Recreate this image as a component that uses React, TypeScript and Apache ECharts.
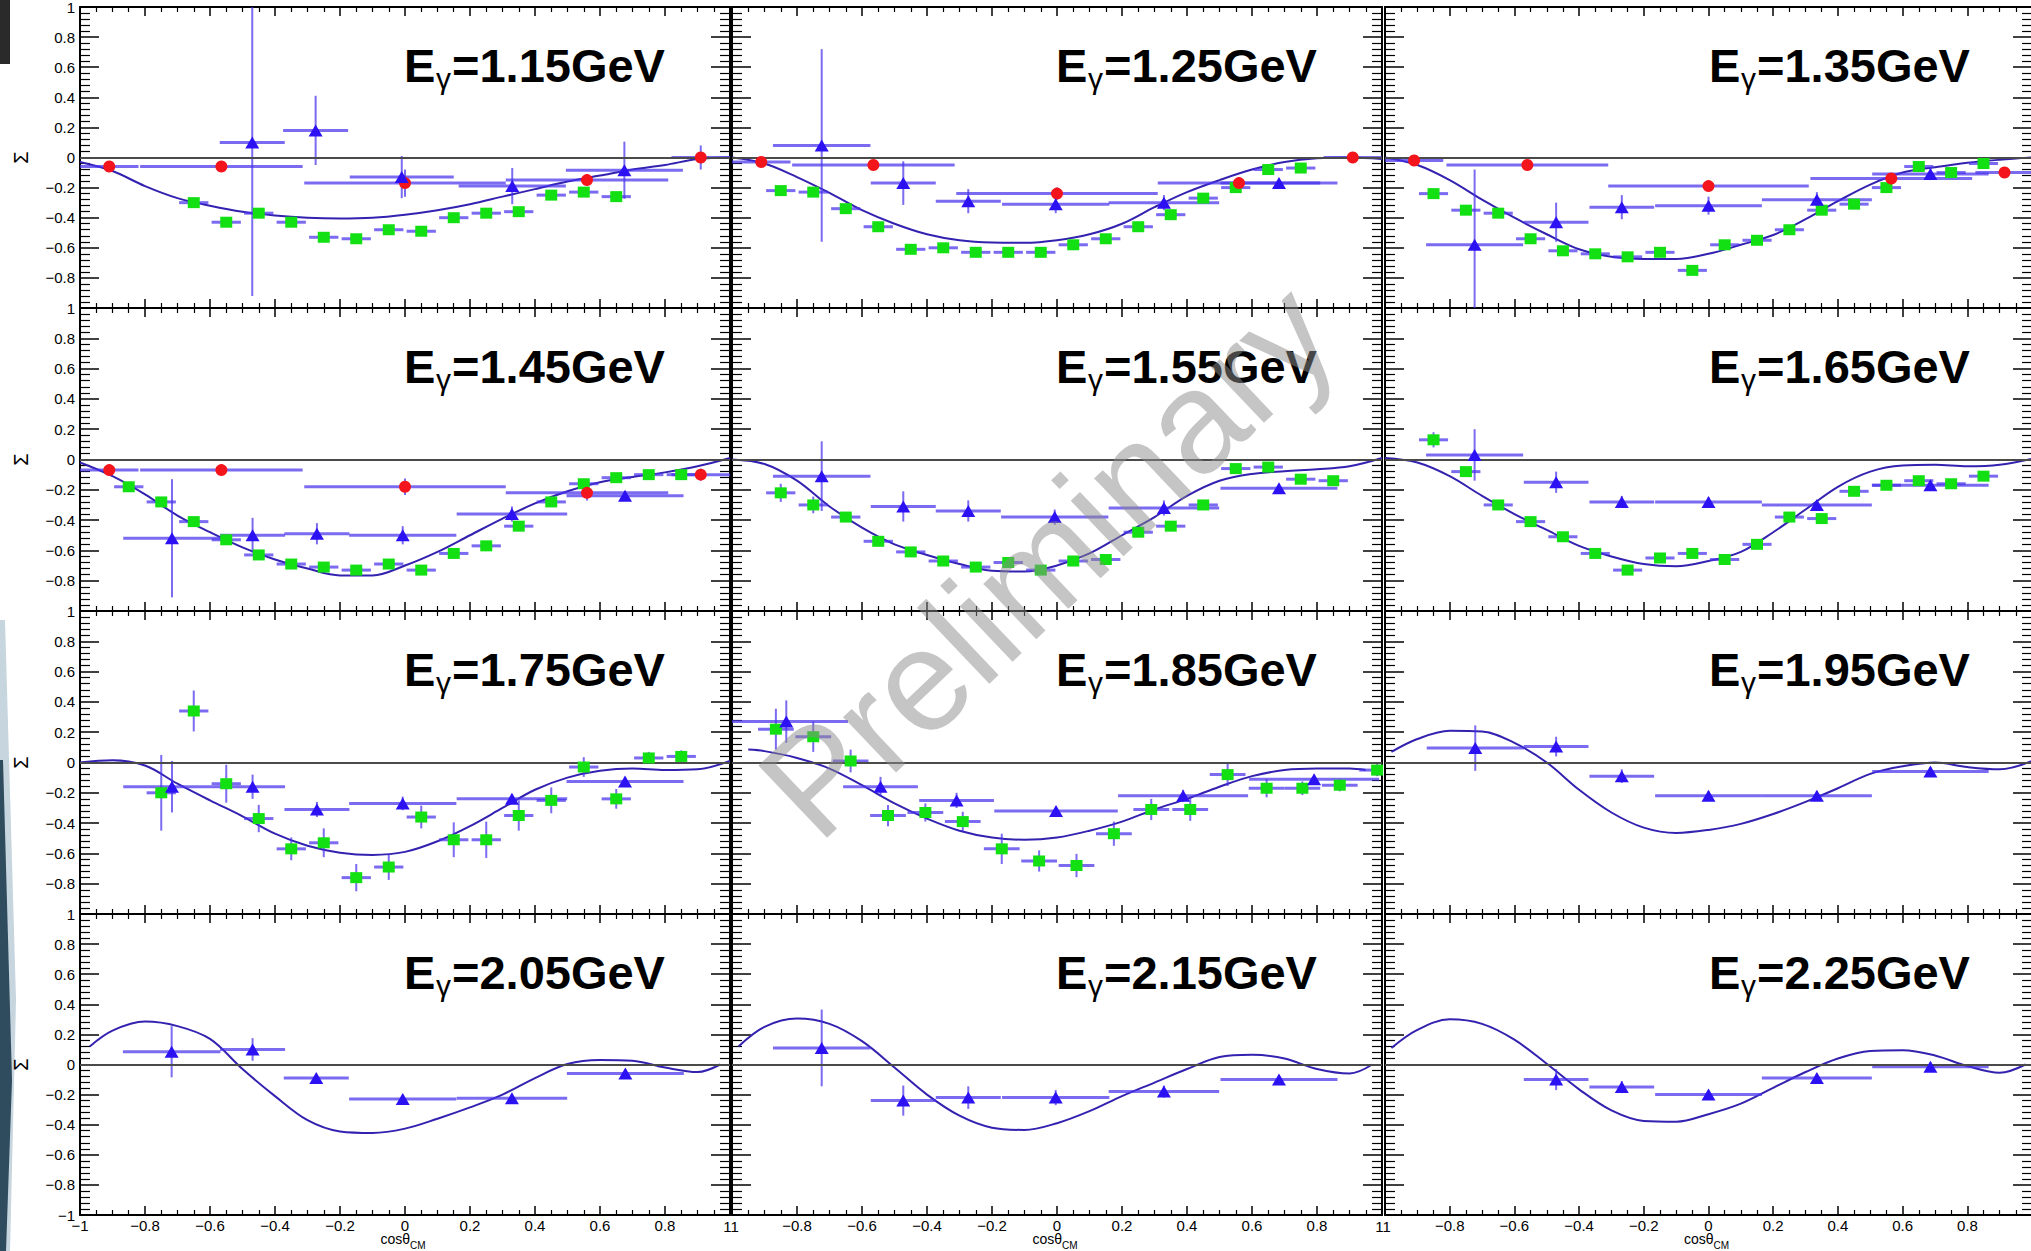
import React, { useEffect, useRef } from "react";
import * as echarts from "echarts";

type Pt = [number, number, number, number]; // x, y, x-error, y-error
type XY = [number, number];

const ENERGY_LABELS = ["1.15", "1.25", "1.35", "1.45", "1.55", "1.65", "1.75", "1.85", "1.95", "2.05", "2.15", "2.25"];

// ---------- E = 1.15 GeV ----------
const GREEN_115: Pt[] = [
  [-0.65, -0.30, 0.045, 0.02], [-0.55, -0.43, 0.045, 0.02], [-0.45, -0.37, 0.045, 0.02], [-0.35, -0.43, 0.045, 0.02],
  [-0.25, -0.53, 0.045, 0.02], [-0.15, -0.54, 0.045, 0.02], [-0.05, -0.48, 0.045, 0.02], [0.05, -0.49, 0.045, 0.02],
  [0.15, -0.40, 0.045, 0.02], [0.25, -0.37, 0.045, 0.02], [0.35, -0.36, 0.045, 0.02], [0.45, -0.25, 0.045, 0.02],
  [0.55, -0.23, 0.045, 0.02], [0.65, -0.26, 0.045, 0.02],
];
const RED_115: Pt[] = [
  [-0.91, -0.06, 0.09, 0.03], [-0.565, -0.06, 0.25, 0.03], [0.0, -0.17, 0.31, 0.09], [0.56, -0.15, 0.25, 0.04], [0.91, 0.0, 0.09, 0.08],
];
const TRI_115: Pt[] = [
  [-0.47, 0.10, 0.10, 1.02], [-0.275, 0.18, 0.10, 0.23], [-0.01, -0.13, 0.16, 0.14], [0.33, -0.19, 0.165, 0.12], [0.675, -0.085, 0.18, 0.19],
];
const CURVE_115: XY[] = [
  [-1, -0.03], [-0.9, -0.09], [-0.8, -0.19], [-0.7, -0.27], [-0.6, -0.32], [-0.5, -0.36], [-0.4, -0.385], [-0.3, -0.40],
  [-0.2, -0.405], [-0.1, -0.40], [0, -0.38], [0.1, -0.35], [0.2, -0.31], [0.3, -0.26], [0.4, -0.21], [0.5, -0.16],
  [0.6, -0.12], [0.7, -0.08], [0.8, -0.05], [0.9, -0.01], [1, 0],
];

// ---------- E = 1.25 GeV ----------
const GREEN_125: Pt[] = [
  [-0.85, -0.22, 0.045, 0.02], [-0.75, -0.23, 0.045, 0.02], [-0.65, -0.34, 0.045, 0.02], [-0.55, -0.46, 0.045, 0.02],
  [-0.45, -0.61, 0.045, 0.02], [-0.35, -0.60, 0.045, 0.02], [-0.25, -0.63, 0.045, 0.02], [-0.15, -0.63, 0.045, 0.02],
  [-0.05, -0.63, 0.045, 0.02], [0.05, -0.58, 0.045, 0.02], [0.15, -0.54, 0.045, 0.02], [0.25, -0.46, 0.045, 0.02],
  [0.35, -0.38, 0.045, 0.02], [0.45, -0.27, 0.045, 0.02], [0.55, -0.20, 0.045, 0.02], [0.65, -0.08, 0.045, 0.02],
  [0.75, -0.07, 0.045, 0.02],
];
const RED_125: Pt[] = [
  [-0.91, -0.03, 0.09, 0.03], [-0.565, -0.05, 0.25, 0.03], [0.0, -0.24, 0.31, 0.04], [0.56, -0.17, 0.25, 0.04], [0.91, 0.0, 0.09, 0.03],
];
const TRI_125: Pt[] = [
  [-0.724, 0.08, 0.15, 0.64], [-0.473, -0.17, 0.10, 0.145], [-0.273, -0.29, 0.10, 0.08], [-0.004, -0.31, 0.165, 0.06],
  [0.329, -0.30, 0.17, 0.05], [0.683, -0.17, 0.18, 0.03],
];
const CURVE_125: XY[] = [
  [-1, 0.0], [-0.9, -0.04], [-0.8, -0.13], [-0.7, -0.235], [-0.6, -0.35], [-0.5, -0.44], [-0.4, -0.51], [-0.3, -0.55],
  [-0.2, -0.565], [-0.1, -0.567], [0, -0.55], [0.1, -0.51], [0.2, -0.44], [0.3, -0.33], [0.4, -0.23], [0.5, -0.15],
  [0.6, -0.08], [0.7, -0.03], [0.8, -0.005], [0.9, 0.0], [1, -0.01],
];

// ---------- E = 1.35 GeV ----------
const GREEN_135: Pt[] = [
  [-0.85, -0.24, 0.045, 0.02], [-0.75, -0.35, 0.045, 0.02], [-0.65, -0.37, 0.045, 0.02], [-0.55, -0.54, 0.045, 0.02],
  [-0.45, -0.62, 0.045, 0.02], [-0.35, -0.64, 0.045, 0.02], [-0.25, -0.66, 0.045, 0.02], [-0.15, -0.63, 0.045, 0.02],
  [-0.05, -0.75, 0.045, 0.02], [0.05, -0.58, 0.045, 0.02], [0.15, -0.55, 0.045, 0.02], [0.25, -0.48, 0.045, 0.02],
  [0.35, -0.35, 0.045, 0.02], [0.45, -0.31, 0.045, 0.02], [0.55, -0.20, 0.045, 0.02], [0.65, -0.06, 0.045, 0.02],
  [0.75, -0.10, 0.045, 0.02], [0.85, -0.04, 0.045, 0.02],
];
const RED_135: Pt[] = [
  [-0.91, -0.02, 0.09, 0.03], [-0.56, -0.05, 0.25, 0.03], [0.0, -0.19, 0.31, 0.03], [0.565, -0.14, 0.25, 0.03], [0.915, -0.10, 0.09, 0.03],
];
const TRI_135: Pt[] = [
  [-0.723, -0.58, 0.15, 0.50], [-0.471, -0.43, 0.10, 0.13], [-0.268, -0.33, 0.10, 0.08], [0.0, -0.32, 0.165, 0.06],
  [0.335, -0.28, 0.17, 0.05], [0.686, -0.11, 0.18, 0.04],
];
const CURVE_135: XY[] = [
  [-1, 0.0], [-0.9, -0.05], [-0.8, -0.15], [-0.7, -0.28], [-0.6, -0.40], [-0.5, -0.51], [-0.4, -0.61], [-0.3, -0.66],
  [-0.2, -0.675], [-0.1, -0.675], [0, -0.64], [0.1, -0.58], [0.2, -0.515], [0.3, -0.41], [0.4, -0.29], [0.5, -0.18],
  [0.6, -0.10], [0.7, -0.065], [0.8, -0.035], [0.9, -0.015], [1, 0.0],
];

// ---------- E = 1.45 GeV ----------
const GREEN_145: Pt[] = [
  [-0.85, -0.18, 0.045, 0.02], [-0.75, -0.28, 0.045, 0.02], [-0.65, -0.41, 0.045, 0.02], [-0.55, -0.53, 0.045, 0.02],
  [-0.45, -0.63, 0.045, 0.02], [-0.35, -0.69, 0.045, 0.02], [-0.25, -0.71, 0.045, 0.02], [-0.15, -0.73, 0.045, 0.02],
  [-0.05, -0.69, 0.045, 0.02], [0.05, -0.73, 0.045, 0.02], [0.15, -0.62, 0.045, 0.02], [0.25, -0.57, 0.045, 0.02],
  [0.35, -0.44, 0.045, 0.02], [0.45, -0.28, 0.045, 0.02], [0.55, -0.16, 0.045, 0.02], [0.65, -0.12, 0.045, 0.02],
  [0.75, -0.10, 0.045, 0.02], [0.85, -0.10, 0.045, 0.02],
];
const RED_145: Pt[] = [
  [-0.91, -0.07, 0.09, 0.03], [-0.565, -0.07, 0.25, 0.03], [0.0, -0.18, 0.31, 0.055], [0.56, -0.22, 0.25, 0.05], [0.91, -0.10, 0.09, 0.04],
];
const TRI_145: Pt[] = [
  [-0.717, -0.52, 0.15, 0.39], [-0.469, -0.50, 0.10, 0.115], [-0.271, -0.49, 0.10, 0.07], [-0.007, -0.50, 0.165, 0.06],
  [0.329, -0.36, 0.17, 0.05], [0.677, -0.24, 0.18, 0.03],
];
const CURVE_145: XY[] = [
  [-1, -0.02], [-0.9, -0.11], [-0.8, -0.23], [-0.7, -0.37], [-0.6, -0.48], [-0.5, -0.58], [-0.4, -0.66], [-0.3, -0.72],
  [-0.2, -0.765], [-0.1, -0.765], [0, -0.70], [0.1, -0.61], [0.2, -0.50], [0.3, -0.39], [0.4, -0.29], [0.5, -0.21],
  [0.6, -0.15], [0.7, -0.115], [0.8, -0.085], [0.9, -0.045], [1, 0.01],
];

// ---------- E = 1.55 GeV ----------
const GREEN_155: Pt[] = [
  [-0.85, -0.22, 0.045, 0.06], [-0.75, -0.30, 0.045, 0.055], [-0.65, -0.38, 0.045, 0.03], [-0.55, -0.54, 0.045, 0.03],
  [-0.45, -0.61, 0.045, 0.03], [-0.35, -0.67, 0.045, 0.03], [-0.25, -0.71, 0.045, 0.03], [-0.15, -0.68, 0.045, 0.03],
  [-0.05, -0.73, 0.045, 0.03], [0.05, -0.67, 0.045, 0.03], [0.15, -0.66, 0.045, 0.03], [0.25, -0.48, 0.045, 0.03],
  [0.35, -0.44, 0.045, 0.03], [0.45, -0.30, 0.045, 0.03], [0.55, -0.06, 0.045, 0.03], [0.65, -0.05, 0.045, 0.03],
  [0.75, -0.13, 0.045, 0.03], [0.85, -0.14, 0.045, 0.03],
];
const TRI_155: Pt[] = [
  [-0.724, -0.11, 0.15, 0.23], [-0.473, -0.31, 0.10, 0.10], [-0.273, -0.34, 0.10, 0.07], [-0.007, -0.38, 0.165, 0.05],
  [0.329, -0.32, 0.17, 0.05], [0.683, -0.19, 0.18, 0.03],
];
const CURVE_155: XY[] = [
  [-1, 0.0], [-0.9, -0.03], [-0.8, -0.14], [-0.7, -0.31], [-0.6, -0.45], [-0.5, -0.56], [-0.4, -0.63], [-0.3, -0.69],
  [-0.2, -0.735], [-0.1, -0.74], [0, -0.70], [0.1, -0.62], [0.2, -0.50], [0.3, -0.38], [0.4, -0.24], [0.5, -0.14],
  [0.6, -0.095], [0.7, -0.077], [0.8, -0.065], [0.9, -0.045], [1, 0.01],
];

// ---------- E = 1.65 GeV ----------
const GREEN_165: Pt[] = [
  [-0.85, 0.13, 0.045, 0.05], [-0.75, -0.08, 0.045, 0.03], [-0.65, -0.30, 0.045, 0.02], [-0.55, -0.41, 0.045, 0.02],
  [-0.45, -0.51, 0.045, 0.02], [-0.35, -0.62, 0.045, 0.02], [-0.25, -0.73, 0.045, 0.02], [-0.15, -0.65, 0.045, 0.02],
  [-0.05, -0.62, 0.045, 0.02], [0.05, -0.66, 0.045, 0.02], [0.15, -0.56, 0.045, 0.02], [0.25, -0.38, 0.045, 0.02],
  [0.35, -0.39, 0.045, 0.02], [0.45, -0.21, 0.045, 0.02], [0.55, -0.17, 0.045, 0.02], [0.65, -0.14, 0.045, 0.02],
  [0.75, -0.16, 0.045, 0.02], [0.85, -0.11, 0.045, 0.02],
];
const TRI_165: Pt[] = [
  [-0.723, 0.03, 0.15, 0.17], [-0.471, -0.15, 0.10, 0.07], [-0.268, -0.28, 0.10, 0.04], [0.0, -0.28, 0.165, 0.03],
  [0.335, -0.30, 0.17, 0.03], [0.686, -0.17, 0.18, 0.03],
];
const CURVE_165: XY[] = [
  [-1, 0.01], [-0.9, -0.02], [-0.8, -0.11], [-0.7, -0.24], [-0.6, -0.36], [-0.5, -0.465], [-0.4, -0.57], [-0.3, -0.64],
  [-0.2, -0.69], [-0.1, -0.705], [0, -0.67], [0.1, -0.61], [0.2, -0.48], [0.3, -0.33], [0.4, -0.18], [0.5, -0.08],
  [0.6, -0.04], [0.7, -0.035], [0.8, -0.045], [0.9, -0.035], [1, 0.005],
];

// ---------- E = 1.75 GeV ----------
const GREEN_175: Pt[] = [
  [-0.75, -0.20, 0.045, 0.25], [-0.65, 0.34, 0.045, 0.135], [-0.55, -0.14, 0.045, 0.125], [-0.45, -0.37, 0.045, 0.09],
  [-0.35, -0.57, 0.045, 0.075], [-0.25, -0.53, 0.045, 0.095], [-0.15, -0.76, 0.045, 0.09], [-0.05, -0.69, 0.045, 0.085],
  [0.05, -0.36, 0.045, 0.075], [0.15, -0.51, 0.045, 0.115], [0.25, -0.51, 0.045, 0.12], [0.35, -0.35, 0.045, 0.10],
  [0.45, -0.25, 0.045, 0.085], [0.55, -0.03, 0.045, 0.065], [0.65, -0.24, 0.045, 0.065], [0.75, 0.03, 0.045, 0.04],
  [0.85, 0.04, 0.045, 0.04],
];
const TRI_175: Pt[] = [
  [-0.717, -0.16, 0.15, 0.17], [-0.469, -0.16, 0.10, 0.08], [-0.271, -0.31, 0.10, 0.05], [-0.007, -0.27, 0.165, 0.045],
  [0.329, -0.24, 0.17, 0.03], [0.677, -0.125, 0.18, 0.03],
];
const CURVE_175: XY[] = [
  [-1, 0.0], [-0.9, 0.015], [-0.8, -0.02], [-0.7, -0.14], [-0.6, -0.25], [-0.5, -0.355], [-0.4, -0.47], [-0.3, -0.55],
  [-0.2, -0.595], [-0.1, -0.61], [0, -0.59], [0.1, -0.52], [0.2, -0.42], [0.3, -0.30], [0.4, -0.18], [0.5, -0.10],
  [0.6, -0.055], [0.7, -0.04], [0.8, -0.05], [0.9, -0.045], [1, 0.01],
];

// ---------- E = 1.85 GeV ----------
const GREEN_185: Pt[] = [
  [-0.865, 0.22, 0.055, 0.135], [-0.75, 0.17, 0.055, 0.10], [-0.635, 0.01, 0.055, 0.075], [-0.52, -0.35, 0.055, 0.07],
  [-0.405, -0.33, 0.055, 0.06], [-0.29, -0.39, 0.055, 0.065], [-0.17, -0.57, 0.055, 0.10], [-0.055, -0.65, 0.055, 0.07],
  [0.06, -0.68, 0.055, 0.077], [0.175, -0.47, 0.055, 0.08], [0.29, -0.31, 0.055, 0.07], [0.41, -0.31, 0.055, 0.075],
  [0.525, -0.08, 0.055, 0.075], [0.645, -0.17, 0.055, 0.06], [0.755, -0.17, 0.055, 0.045], [0.87, -0.15, 0.055, 0.04],
  [0.985, -0.05, 0.055, 0.04],
];
const TRI_185: Pt[] = [
  [-0.833, 0.27, 0.19, 0.14], [-0.543, -0.16, 0.115, 0.065], [-0.309, -0.25, 0.115, 0.05], [-0.003, -0.32, 0.19, 0.03],
  [0.388, -0.22, 0.20, 0.04], [0.791, -0.11, 0.20, 0.03],
];
const CURVE_185: XY[] = [
  [-0.95, 0.085], [-0.9, 0.075], [-0.8, 0.03], [-0.7, -0.04], [-0.6, -0.15], [-0.5, -0.27], [-0.4, -0.37], [-0.3, -0.45],
  [-0.2, -0.495], [-0.1, -0.51], [0, -0.495], [0.1, -0.45], [0.2, -0.39], [0.3, -0.31], [0.4, -0.24], [0.5, -0.16],
  [0.6, -0.09], [0.7, -0.05], [0.8, -0.04], [0.9, -0.04], [0.95, -0.05],
];

// ---------- E = 1.95 GeV ----------
const TRI_195: Pt[] = [
  [-0.721, 0.095, 0.15, 0.15], [-0.471, 0.105, 0.10, 0.065], [-0.268, -0.09, 0.10, 0.045], [0.0, -0.22, 0.165, 0.03],
  [0.335, -0.22, 0.17, 0.03], [0.686, -0.06, 0.18, 0.03],
];
const CURVE_195: XY[] = [
  [-0.98, 0.07], [-0.9, 0.155], [-0.8, 0.21], [-0.7, 0.205], [-0.6, 0.13], [-0.5, 0.0], [-0.4, -0.18], [-0.3, -0.33],
  [-0.2, -0.43], [-0.1, -0.465], [0, -0.445], [0.1, -0.405], [0.2, -0.34], [0.3, -0.26], [0.4, -0.17], [0.5, -0.075],
  [0.6, -0.025], [0.7, 0.0], [0.8, -0.03], [0.9, -0.045], [1, 0.01],
];

// ---------- E = 2.05 GeV ----------
const TRI_205: Pt[] = [
  [-0.718, 0.085, 0.15, 0.17], [-0.469, 0.10, 0.10, 0.075], [-0.273, -0.09, 0.10, 0.03], [-0.007, -0.23, 0.165, 0.03],
  [0.329, -0.225, 0.17, 0.03], [0.678, -0.06, 0.18, 0.03],
];
const CURVE_205: XY[] = [
  [-0.97, 0.12], [-0.9, 0.225], [-0.8, 0.285], [-0.7, 0.255], [-0.6, 0.17], [-0.5, -0.03], [-0.4, -0.21], [-0.3, -0.37],
  [-0.2, -0.445], [-0.1, -0.455], [0, -0.426], [0.1, -0.36], [0.2, -0.285], [0.3, -0.20], [0.4, -0.09], [0.5, 0.003],
  [0.6, 0.03], [0.7, 0.025], [0.8, -0.02], [0.9, -0.05], [0.97, 0.0],
];

// ---------- E = 2.15 GeV ----------
const TRI_215: Pt[] = [
  [-0.724, 0.11, 0.15, 0.255], [-0.473, -0.24, 0.10, 0.10], [-0.273, -0.22, 0.10, 0.075], [-0.004, -0.22, 0.165, 0.05],
  [0.329, -0.18, 0.17, 0.04], [0.683, -0.10, 0.18, 0.03],
];
const CURVE_215: XY[] = [
  [-0.98, 0.12], [-0.9, 0.25], [-0.8, 0.305], [-0.7, 0.27], [-0.6, 0.155], [-0.5, -0.02], [-0.4, -0.20], [-0.3, -0.34],
  [-0.2, -0.42], [-0.1, -0.435], [0, -0.39], [0.1, -0.31], [0.2, -0.21], [0.3, -0.12], [0.4, -0.03], [0.5, 0.05],
  [0.6, 0.065], [0.7, 0.04], [0.8, -0.03], [0.9, -0.06], [0.97, 0.0],
];

// ---------- E = 2.25 GeV ----------
const TRI_225: Pt[] = [
  [-0.471, -0.10, 0.10, 0.07], [-0.268, -0.15, 0.10, 0.04], [0.0, -0.20, 0.165, 0.03], [0.335, -0.09, 0.17, 0.03],
  [0.686, -0.015, 0.18, 0.03],
];
const CURVE_225: XY[] = [
  [-0.98, 0.11], [-0.9, 0.23], [-0.8, 0.30], [-0.7, 0.27], [-0.6, 0.165], [-0.5, 0.005], [-0.4, -0.165], [-0.3, -0.305],
  [-0.2, -0.375], [-0.1, -0.38], [0, -0.33], [0.1, -0.26], [0.2, -0.155], [0.3, -0.05], [0.4, 0.04], [0.5, 0.09],
  [0.6, 0.095], [0.7, 0.06], [0.8, -0.01], [0.9, -0.055], [0.98, 0.0],
];

const GREEN_SETS: Pt[][] = [GREEN_115, GREEN_125, GREEN_135, GREEN_145, GREEN_155, GREEN_165, GREEN_175, GREEN_185, [], [], [], []];
const RED_SETS: Pt[][] = [RED_115, RED_125, RED_135, RED_145, [], [], [], [], [], [], [], []];
const TRI_SETS: Pt[][] = [TRI_115, TRI_125, TRI_135, TRI_145, TRI_155, TRI_165, TRI_175, TRI_185, TRI_195, TRI_205, TRI_215, TRI_225];
const CURVE_SETS: XY[][] = [CURVE_115, CURVE_125, CURVE_135, CURVE_145, CURVE_155, CURVE_165, CURVE_175, CURVE_185, CURVE_195, CURVE_205, CURVE_215, CURVE_225];

// ---------- layout & style ----------
const COL_LEFT = [80, 732, 1385];
const COL_WIDTH = [650, 650, 647];
const ROW_TOP = [7, 308, 611, 914];
const ROW_HEIGHT = [301, 303, 303, 301];

const FONT = "'Liberation Sans', Arial, Helvetica, sans-serif";
const BAR_COLOR = "rgba(70,50,236,0.72)";
const GREEN_COLOR = "#12e012";
const RED_COLOR = "#f4141c";
const TRI_COLOR = "#2c12f2";
const CURVE_COLOR = "#3322b0";

function fmtTick(v: number): string {
  const r = Math.round(v * 10) / 10;
  if (r === 0) return "0";
  const a = Math.abs(r);
  const s = Number.isInteger(a) ? String(a) : a.toFixed(1);
  return (r < 0 ? "\u2212" : "") + s;
}

const clampUnit = (v: number) => Math.max(-1, Math.min(1, v));

function errorBars(data: Pt[], axisIdx: number) {
  return {
    type: "custom",
    xAxisIndex: axisIdx,
    yAxisIndex: axisIdx,
    data,
    encode: { x: 0, y: 1 },
    z: 4,
    silent: true,
    renderItem: (_params: any, api: any) => {
      const x = api.value(0);
      const y = api.value(1);
      const ex = api.value(2);
      const ey = api.value(3);
      const h1 = api.coord([clampUnit(x - ex), y]);
      const h2 = api.coord([clampUnit(x + ex), y]);
      const v1 = api.coord([x, clampUnit(y - ey)]);
      const v2 = api.coord([x, clampUnit(y + ey)]);
      return {
        type: "group",
        children: [
          { type: "line", shape: { x1: h1[0], y1: h1[1], x2: h2[0], y2: h2[1] }, style: { stroke: BAR_COLOR, lineWidth: 3 } },
          { type: "line", shape: { x1: v1[0], y1: v1[1], x2: v2[0], y2: v2[1] }, style: { stroke: BAR_COLOR, lineWidth: 2 } },
        ],
      };
    },
  };
}

function markers(data: Pt[], axisIdx: number, symbol: string, size: any, color: string) {
  return {
    type: "scatter",
    xAxisIndex: axisIdx,
    yAxisIndex: axisIdx,
    data: data.map((p) => [p[0], p[1]]),
    symbol,
    symbolSize: size,
    itemStyle: { color, opacity: 1 },
    z: 5,
    silent: true,
  };
}

function buildOption() {
  const grid: any[] = [];
  const xAxis: any[] = [];
  const yAxis: any[] = [];
  const series: any[] = [];
  const graphic: any[] = [];

  for (let i = 0; i < 12; i++) {
    const r = Math.floor(i / 3);
    const c = i % 3;
    const left = COL_LEFT[c];
    const top = ROW_TOP[r];
    const width = COL_WIDTH[c];
    const height = ROW_HEIGHT[r];
    grid.push({ left, top, width, height, containLabel: false, outerBoundsMode: "none", show: false });

    const axisLine = { show: true, onZero: false, lineStyle: { color: "#000", width: 2 } };
    const xTick = { show: true, inside: true, length: 9, lineStyle: { color: "#000", width: 1.5 } };
    const xMinor = { show: true, splitNumber: 4, length: 5, lineStyle: { color: "#000", width: 1.2 } };
    const yTick = { show: true, inside: true, length: 19, lineStyle: { color: "#000", width: 1.5 } };
    const yMinor = { show: true, splitNumber: 5, length: 10, lineStyle: { color: "#000", width: 1.2 } };
    const isBottom = r === 3;
    const isLeft = c === 0;

    xAxis.push({
      gridIndex: i, type: "value", min: -1, max: 1, interval: 0.2, position: "bottom",
      axisLine, axisTick: xTick, minorTick: xMinor, splitLine: { show: false },
      axisLabel: {
        show: isBottom, margin: 3, color: "#000", fontSize: 15, fontFamily: FONT,
        showMinLabel: true, showMaxLabel: true,
        formatter: (v: number) => {
          const rv = Math.round(v * 10) / 10;
          if (rv === 1) return "";
          if (rv === -1) return c === 0 ? "\u22121" : "";
          return fmtTick(rv);
        },
      },
    });
    xAxis.push({
      gridIndex: i, type: "value", min: -1, max: 1, interval: 0.2, position: "top",
      axisLine, axisTick: xTick, minorTick: xMinor, splitLine: { show: false }, axisLabel: { show: false },
    });
    yAxis.push({
      gridIndex: i, type: "value", min: -1, max: 1, interval: 0.2, position: "left",
      axisLine, axisTick: yTick, minorTick: yMinor, splitLine: { show: false },
      axisLabel: {
        show: isLeft, margin: 5, color: "#000", fontSize: 15, fontFamily: FONT,
        showMinLabel: true, showMaxLabel: true,
        formatter: (v: number) => {
          const rv = Math.round(v * 10) / 10;
          if (rv === -1 && !isBottom) return "";
          return fmtTick(rv);
        },
      },
    });
    yAxis.push({
      gridIndex: i, type: "value", min: -1, max: 1, interval: 0.2, position: "right",
      axisLine, axisTick: yTick, minorTick: yMinor, splitLine: { show: false }, axisLabel: { show: false },
    });

    const ax = 2 * i;
    series.push({
      type: "line",
      xAxisIndex: ax,
      yAxisIndex: ax,
      data: CURVE_SETS[i],
      smooth: 0.35,
      symbol: "none",
      lineStyle: { color: CURVE_COLOR, width: 2 },
      z: 3,
      silent: true,
      markLine: {
        silent: true,
        symbol: ["none", "none"],
        label: { show: false },
        lineStyle: { color: "#4a4a4a", width: 2, type: "solid" },
        data: [{ yAxis: 0 }],
      },
    });
    if (GREEN_SETS[i].length) {
      series.push(errorBars(GREEN_SETS[i], ax));
      series.push(markers(GREEN_SETS[i], ax, "rect", [12, 11], GREEN_COLOR));
    }
    if (RED_SETS[i].length) {
      series.push(errorBars(RED_SETS[i], ax));
      series.push(markers(RED_SETS[i], ax, "circle", 12, RED_COLOR));
    }
    if (TRI_SETS[i].length) {
      series.push(errorBars(TRI_SETS[i], ax));
      series.push(markers(TRI_SETS[i], ax, "triangle", [14, 12], TRI_COLOR));
    }

    // panel title  E_gamma = x.xx GeV
    const tx = left + 324;
    graphic.push({
      type: "text", x: tx, y: top + 58, z: 50,
      style: { text: "E", fontSize: 47, fontWeight: "bold", fontFamily: FONT, fill: "#000", align: "left", verticalAlign: "middle" },
    });
    graphic.push({
      type: "text", x: tx + 32, y: top + 71, z: 50,
      style: { text: "\u03b3", fontSize: 30, fontFamily: FONT, fill: "#000", align: "left", verticalAlign: "middle" },
    });
    graphic.push({
      type: "text", x: tx + 48, y: top + 58, z: 50,
      style: { text: "=" + ENERGY_LABELS[i] + "GeV", fontSize: 47, fontWeight: "bold", fontFamily: FONT, fill: "#000", align: "left", verticalAlign: "middle" },
    });

    if (isBottom) {
      const cx = left + width / 2;
      graphic.push({
        type: "text", x: cx + 5, y: 1239, z: 50,
        style: { text: "cos\u03b8", fontSize: 14, fontFamily: FONT, fill: "#000", align: "right", verticalAlign: "middle" },
      });
      graphic.push({
        type: "text", x: cx + 5, y: 1245, z: 50,
        style: { text: "CM", fontSize: 10, fontFamily: FONT, fill: "#000", align: "left", verticalAlign: "middle" },
      });
    }
    if (isLeft) {
      graphic.push({
        type: "text", x: 21, y: top + height / 2, rotation: Math.PI / 2, z: 50,
        style: { text: "\u03a3", fontSize: 20, fontFamily: FONT, fill: "#000", align: "center", verticalAlign: "middle" },
      });
    }
  }

  // shared-edge x labels ("1" of the left pad and "-1" of the right pad, clipped)
  graphic.push({
    type: "text", x: 731, y: 1226, z: 50,
    style: { text: "11", fontSize: 15, fontFamily: FONT, fill: "#000", align: "center", verticalAlign: "middle" },
  });
  graphic.push({
    type: "text", x: 1383, y: 1226, z: 50,
    style: { text: "11", fontSize: 15, fontFamily: FONT, fill: "#000", align: "center", verticalAlign: "middle" },
  });

  // slide background fragments at the left edge
  graphic.push({ type: "rect", shape: { x: 0, y: 0, width: 10, height: 64 }, style: { fill: "#2a2a2a" }, z: 1 });
  graphic.push({
    type: "polygon", shape: { points: [[0, 620], [5, 620], [16, 1000], [10, 1251], [0, 1251]] },
    style: { fill: "#c6d5de" }, z: 1,
  });
  graphic.push({
    type: "polygon", shape: { points: [[0, 760], [3, 760], [12, 1080], [6, 1251], [0, 1251]] },
    style: { fill: "#2f4b5e" }, z: 1,
  });

  // watermark
  graphic.push({
    type: "text", x: 1047, y: 560, rotation: 0.76, z: 100,
    style: {
      text: "Preliminary", fontSize: 145, fontFamily: FONT, fill: "rgba(140,140,140,0.5)",
      align: "center", verticalAlign: "middle",
    },
  });

  return {
    animation: false,
    backgroundColor: "#ffffff",
    grid,
    xAxis,
    yAxis,
    series,
    graphic,
  };
}

export default function App() {
  const ref = useRef<HTMLDivElement>(null);
  useEffect(() => {
    if (!ref.current) return;
    const chart = echarts.init(ref.current, undefined, { renderer: "svg" });
    chart.setOption(buildOption() as any);
    return () => chart.dispose();
  }, []);
  return (
    <div
      ref={ref}
      style={{ position: "absolute", left: 0, top: 0, width: 2031, height: 1251, background: "#fff" }}
    />
  );
}
